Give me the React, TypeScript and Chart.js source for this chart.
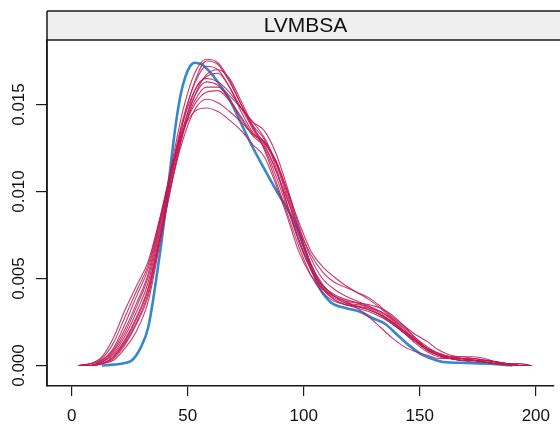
import React, { useEffect, useRef } from "react";
import { Chart, registerables } from "chart.js";

Chart.register(...registerables);

const panelTitle = "LVMBSA";
const xTicks = [0, 50, 100, 150, 200];
const yTicks = [0, 0.005, 0.01, 0.015];

// observed density (blue)
const observedX = [13, 18, 22, 26, 30, 33, 35, 37, 39, 41, 43, 45, 47, 49, 51, 53, 56, 60, 64, 68, 72, 77, 83, 88, 92, 95, 99, 103, 107, 112, 118, 124, 130, 135, 140, 145, 150, 155, 160, 170, 180, 190];
const observedY = [0, 0.00005, 0.00012, 0.0003, 0.0011, 0.0022, 0.0037, 0.0055, 0.0074, 0.0096, 0.0119, 0.014, 0.0156, 0.0166, 0.0172, 0.0174, 0.0173, 0.0168, 0.0161, 0.0153, 0.0142, 0.0128, 0.0113, 0.0101, 0.0092, 0.0085, 0.0072, 0.0057, 0.0044, 0.0036, 0.0033, 0.0031, 0.0027, 0.0024, 0.0018, 0.0012, 0.0007, 0.0004, 0.0002, 0.00015, 0.0001, 0];

// imputed densities (red), shared x grid
const imputedX = [3, 8, 13, 18, 23, 28, 33, 38, 43, 48, 53, 58, 63, 68, 73, 78, 83, 88, 93, 98, 103, 108, 113, 118, 123, 128, 133, 138, 143, 148, 153, 158, 163, 168, 173, 178, 183, 188, 193, 198];
const imputed1 = [0, 0.0001, 0.0005, 0.0016, 0.0032, 0.0046, 0.006, 0.0085, 0.0113, 0.0135, 0.0146, 0.0148, 0.0146, 0.0141, 0.0135, 0.0127, 0.012, 0.0104, 0.0085, 0.0065, 0.0052, 0.0044, 0.004, 0.0037, 0.0033, 0.0028, 0.0022, 0.0016, 0.0011, 0.0008, 0.0006, 0.0004, 0.0004, 0.0004, 0.0003, 0.0002, 0.0001, 0.0001, 0, 0];
const imputed2 = [0, 0.0001, 0.0004, 0.0013, 0.0028, 0.0043, 0.0058, 0.0084, 0.0112, 0.0137, 0.0155, 0.0163, 0.0161, 0.0153, 0.0143, 0.0133, 0.0127, 0.0112, 0.0092, 0.0072, 0.0056, 0.0046, 0.0041, 0.0038, 0.0036, 0.0033, 0.0029, 0.0024, 0.0019, 0.0014, 0.0009, 0.0006, 0.0004, 0.0003, 0.0003, 0.0002, 0.0001, 0.0001, 0, 0];
const imputed3 = [0, 0.0001, 0.0003, 0.001, 0.0024, 0.004, 0.0056, 0.0083, 0.0113, 0.0142, 0.0162, 0.0172, 0.017, 0.016, 0.0146, 0.0134, 0.0128, 0.0116, 0.0096, 0.0075, 0.0058, 0.0047, 0.004, 0.0036, 0.0035, 0.0034, 0.0031, 0.0026, 0.002, 0.0014, 0.0009, 0.0006, 0.0005, 0.0004, 0.0003, 0.0002, 0.0001, 0, 0, 0];
const imputed4 = [0, 0, 0.0003, 0.0009, 0.0021, 0.0036, 0.0053, 0.0082, 0.0115, 0.0147, 0.0168, 0.0176, 0.0174, 0.0164, 0.015, 0.0138, 0.013, 0.0114, 0.0092, 0.0071, 0.0055, 0.0044, 0.0038, 0.0035, 0.0033, 0.0031, 0.0028, 0.0024, 0.0019, 0.0014, 0.001, 0.0007, 0.0005, 0.0004, 0.0003, 0.0002, 0.0002, 0.0001, 0, 0];
const imputed5 = [0, 0, 0.0002, 0.0008, 0.0019, 0.0034, 0.0051, 0.008, 0.0112, 0.014, 0.0158, 0.0166, 0.0168, 0.016, 0.0148, 0.014, 0.0135, 0.0122, 0.0102, 0.008, 0.0062, 0.005, 0.0044, 0.004, 0.0037, 0.0034, 0.003, 0.0025, 0.002, 0.0015, 0.001, 0.0007, 0.0005, 0.0004, 0.0003, 0.0003, 0.0002, 0.0001, 0.0001, 0];
const imputed6 = [0, 0, 0.0002, 0.0007, 0.0017, 0.0031, 0.0048, 0.0078, 0.011, 0.0135, 0.015, 0.0157, 0.0158, 0.0152, 0.0142, 0.0132, 0.0126, 0.0112, 0.0095, 0.0078, 0.0064, 0.0054, 0.0048, 0.0045, 0.0042, 0.0039, 0.0034, 0.0028, 0.0023, 0.0018, 0.0014, 0.0009, 0.0006, 0.0005, 0.0005, 0.0004, 0.0002, 0.0001, 0, 0];
const imputed7 = [0, 0, 0.0002, 0.0006, 0.0015, 0.0028, 0.0045, 0.0076, 0.0108, 0.0134, 0.0152, 0.016, 0.016, 0.0155, 0.0148, 0.014, 0.0131, 0.0117, 0.01, 0.0082, 0.0066, 0.0057, 0.0051, 0.0046, 0.0042, 0.0038, 0.0033, 0.0027, 0.0021, 0.0015, 0.0009, 0.0006, 0.0005, 0.0005, 0.0004, 0.0003, 0.0002, 0.0001, 0, 0];
const imputed8 = [0, 0, 0.0001, 0.0005, 0.0014, 0.0027, 0.0044, 0.0074, 0.0108, 0.014, 0.0163, 0.0175, 0.0173, 0.0163, 0.015, 0.0137, 0.0128, 0.0118, 0.01, 0.0078, 0.0058, 0.0045, 0.0038, 0.0035, 0.0034, 0.0033, 0.0031, 0.0027, 0.0022, 0.0016, 0.0011, 0.0007, 0.0005, 0.0004, 0.0004, 0.0003, 0.0002, 0.0001, 0.0001, 0];
const imputed9 = [0, 0, 0.0001, 0.0005, 0.0013, 0.0025, 0.0042, 0.0073, 0.0105, 0.013, 0.0147, 0.0153, 0.0151, 0.0146, 0.014, 0.0133, 0.0129, 0.0117, 0.0098, 0.0077, 0.0059, 0.0046, 0.004, 0.0037, 0.0036, 0.0035, 0.0033, 0.0029, 0.0023, 0.0016, 0.001, 0.0006, 0.0004, 0.0003, 0.0003, 0.0003, 0.0002, 0.0001, 0, 0];
const imputed10 = [0, 0, 0.0001, 0.0004, 0.0012, 0.0024, 0.004, 0.0072, 0.0104, 0.0133, 0.0155, 0.0167, 0.017, 0.0165, 0.0152, 0.0138, 0.0124, 0.0106, 0.0087, 0.0068, 0.0052, 0.0042, 0.0037, 0.0035, 0.0034, 0.0032, 0.0029, 0.0025, 0.002, 0.0015, 0.001, 0.0006, 0.0004, 0.0003, 0.0002, 0.0002, 0.0001, 0.0001, 0, 0];
const imputed11 = [0, 0, 0.0001, 0.0003, 0.001, 0.002, 0.0037, 0.007, 0.0104, 0.0135, 0.0158, 0.0165, 0.0163, 0.0157, 0.0148, 0.0136, 0.0125, 0.0109, 0.009, 0.0071, 0.0056, 0.0045, 0.0039, 0.0036, 0.0034, 0.0032, 0.0029, 0.0025, 0.0019, 0.0013, 0.0008, 0.0005, 0.0004, 0.0003, 0.0003, 0.0002, 0.0001, 0.0001, 0, 0];

const imputedSeries = [imputed1, imputed2, imputed3, imputed4, imputed5, imputed6, imputed7, imputed8, imputed9, imputed10, imputed11];

const FONT = "'Liberation Sans', Arial, Helvetica, sans-serif";
const RED = "rgba(190, 24, 82, 0.85)";
const BLUE = "rgb(52, 136, 206)";
const INK = "#1a1a1a";

const stripPlugin = {
  id: "strip",
  afterDraw(chart: any) {
    const { ctx, chartArea } = chart;
    const left = chartArea.left;
    const top = 11;
    const bottom = chartArea.top;
    ctx.save();
    ctx.fillStyle = "#efefef";
    ctx.fillRect(left, top, chart.width - left + 2, bottom - top);
    ctx.strokeStyle = INK;
    ctx.lineWidth = 1.5;
    ctx.beginPath();
    ctx.moveTo(left, top);
    ctx.lineTo(chart.width + 2, top);
    ctx.moveTo(left, bottom);
    ctx.lineTo(chart.width + 2, bottom);
    ctx.moveTo(left, top);
    ctx.lineTo(left, chartArea.bottom);
    ctx.stroke();
    ctx.fillStyle = "#111";
    ctx.font = `21px ${FONT}`;
    ctx.textAlign = "center";
    ctx.textBaseline = "middle";
    ctx.fillText(panelTitle, (left + chart.width + 4) / 2, (top + bottom) / 2 + 1);
    // rotated y tick labels
    const ys = chart.scales.y;
    ctx.font = `17px ${FONT}`;
    yTicks.forEach((v) => {
      const py = ys.getPixelForValue(v);
      ctx.save();
      ctx.translate(19, py);
      ctx.rotate(-Math.PI / 2);
      ctx.fillText(v.toFixed(3), 0, 0);
      ctx.restore();
    });
    ctx.restore();
  },
};

export default function App() {
  const ref = useRef<HTMLCanvasElement | null>(null);
  useEffect(() => {
    if (!ref.current) return;
    const datasets: any[] = imputedSeries.map((ys, i) => ({
      label: `imputed ${i + 1}`,
      data: imputedX.map((x, j) => ({ x, y: ys[j] })),
      borderColor: RED,
      borderWidth: 1.1,
      pointRadius: 0,
      cubicInterpolationMode: "monotone",
      fill: false,
    }));
    datasets.push({
      label: "observed",
      data: observedX.map((x, j) => ({ x, y: observedY[j] })),
      borderColor: BLUE,
      borderWidth: 2.6,
      pointRadius: 0,
      cubicInterpolationMode: "monotone",
      fill: false,
    });
    const chart = new Chart(ref.current, {
      type: "line",
      data: { datasets },
      options: {
        animation: false,
        responsive: false,
        layout: { padding: { top: 40, left: 0, right: 0, bottom: 0 } },
        plugins: { legend: { display: false }, tooltip: { enabled: false } },
        scales: {
          x: {
            type: "linear",
            min: -10.64,
            max: 207.7,
            afterBuildTicks: (s: any) => {
              s.ticks = xTicks.map((v) => ({ value: v }));
            },
            afterFit: (s: any) => {
              s.height = 40;
            },
            grid: { drawOnChartArea: false, drawTicks: true, tickLength: 10, color: INK, lineWidth: 1.2 },
            border: { display: true, color: INK, width: 1.5 },
            ticks: {
              color: "#111",
              font: { family: FONT, size: 17 },
              padding: 10,
              maxRotation: 0,
              minRotation: 0,
              callback: (v: any) => String(v),
            },
          },
          y: {
            type: "linear",
            min: -0.001178,
            max: 0.018707,
            afterBuildTicks: (s: any) => {
              s.ticks = yTicks.map((v) => ({ value: v }));
            },
            afterFit: (s: any) => {
              s.width = 47;
            },
            grid: { drawOnChartArea: false, drawTicks: true, tickLength: 11, color: INK, lineWidth: 1.2 },
            border: { display: true, color: INK, width: 1.5 },
            ticks: { display: false },
          },
        },
      },
      plugins: [stripPlugin],
    });
    return () => chart.destroy();
  }, []);
  return (
    <div style={{ position: "absolute", left: 0, top: 0, width: 560, height: 426, background: "#fff" }}>
      <canvas ref={ref} width={560} height={426} style={{ display: "block", width: 560, height: 426 }} />
    </div>
  );
}
